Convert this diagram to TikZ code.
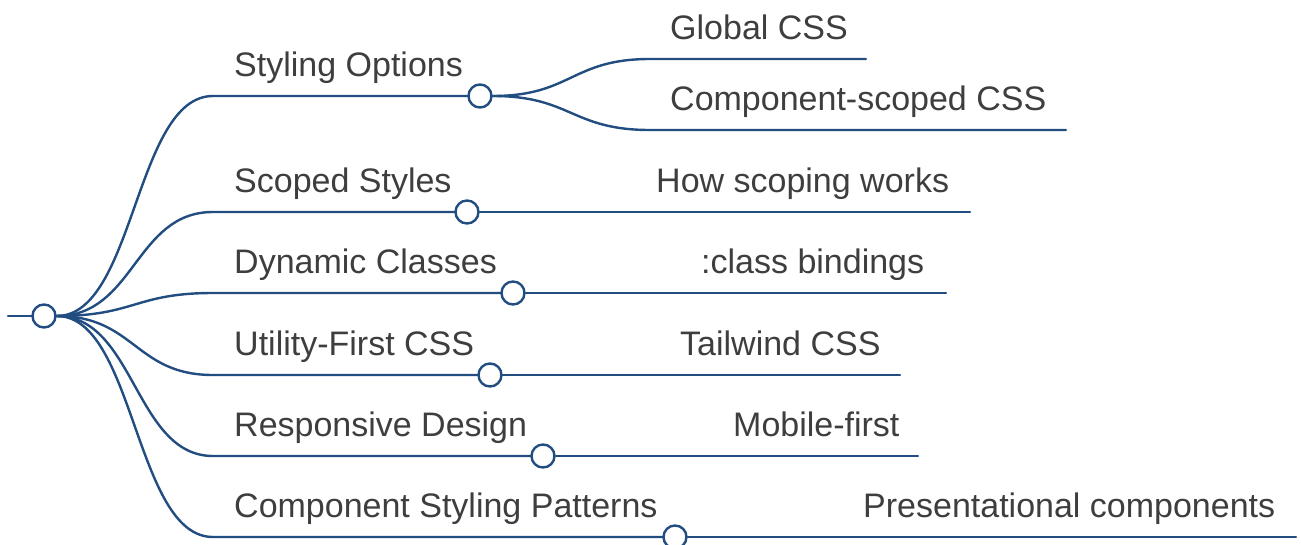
\documentclass[tikz,border=0pt]{standalone}
\usepackage{fontspec}
\setmainfont{Liberation Sans}
\usetikzlibrary{calc}
\definecolor{mmline}{RGB}{33,77,128}
\definecolor{mmtext}{RGB}{62,62,62}
\tikzset{
  mmlink/.style={to path={let \p1=(\tikztostart), \p2=(\tikztotarget) in
    .. controls ({(\x1+\x2)/2},\y1) and ({(\x1+\x2)/2},\y2) .. (\tikztotarget)}},
  dotc/.style={circle, draw=mmline, fill=white, line width=2.4pt, minimum size=23pt, inner sep=0pt},
  lbl/.style={anchor=base west, inner sep=0pt, text=mmtext, font=\fontsize{34}{40}\selectfont},
  every picture/.style={line cap=round, line join=round}
}

\begin{document}
\begin{tikzpicture}[x=1pt, y=-1pt, line width=2.4pt]
    \useasboundingbox (0,0) rectangle (1301,544);

    \coordinate (in) at (8,316);
    \coordinate (root-c) at (44,316);
    \draw[mmline] (in) -- (root-c);
    \node[dotc] (root) at (root-c) {};

    % first level
    \foreach \name/\ypos/\cx/\txt in {
      so/96/480/Styling Options,
      ss/212/467/Scoped Styles,
      dc/293/513/Dynamic Classes,
      uf/375/490/Utility-First CSS,
      rd/456/543/Responsive Design,
      cs/537/675/Component Styling Patterns}
    {
      \coordinate (\name-s) at (213,\ypos);
      \coordinate (\name-c) at (\cx,\ypos);
      \node[lbl] (\name-t) at (233,\ypos-20) {\txt};
      \draw[mmline] (root.east) to[mmlink] (\name-s) -- (\name-c);
      \node[dotc] (\name) at (\name-c) {};
    }

    % second level
    \foreach \name/\up/\ypos/\sx/\ex/\txt in {
      gc/so/59/650/866/Global CSS,
      cc/so/130/650/1066/Component-scoped CSS,
      hs/ss/212/636/970/How scoping works,
      cb/dc/293/681/946/:class bindings,
      tw/uf/375/660/900/Tailwind CSS,
      mf/rd/456/713/918/Mobile-first,
      pc/cs/537/843/1296/Presentational components}
    {
      \coordinate (\name-s) at (\sx,\ypos);
      \coordinate (\name-e) at (\ex,\ypos);
      \node[lbl] (\name-t) at (\sx+19,\ypos-20) {\txt};
      \draw[mmline] (\up.east) to[mmlink] (\name-s) -- (\name-e);
    }
  \end{tikzpicture}
\end{document}
